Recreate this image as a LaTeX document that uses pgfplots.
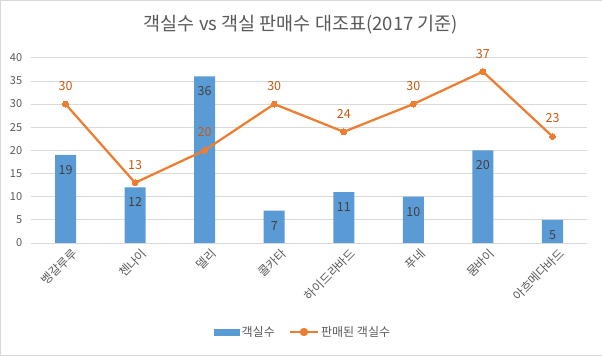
\documentclass[border=0pt]{standalone}
\usepackage{pgfplots}
\pgfplotsset{compat=1.18}
\usepackage{pgfplotstable}
\usepackage{fontspec}
\setmainfont{Noto Sans CJK KR}
\definecolor{cblue}{HTML}{5B9BD5}
\definecolor{corange}{HTML}{ED7D31}
\definecolor{cgrid}{HTML}{D9D9D9}
\definecolor{ctext}{HTML}{595959}
\definecolor{clabel}{HTML}{404040}
\definecolor{corlabel}{HTML}{C55A11}
\pgfplotstableread{
x rooms sold
0 19 30
1 12 13
2 36 20
3 7 30
4 11 24
5 10 30
6 20 37
7 5 23
}\data
\begin{document}
\begin{tikzpicture}[x=1pt,y=1pt]
\draw[cgrid] (0.5,0.5) rectangle (601.5,355.5);
\node[text=ctext, font=\fontsize{18.5}{21}\selectfont] at (301,331) {객실수 vs 객실 판매수 대조표(2017 기준)};
\begin{axis}[
  at={(31pt,113pt)}, anchor=south west,
  scale only axis, width=556pt, height=185pt,
  xmin=-0.5, xmax=7.5, ymin=0, ymax=40,
  ytick={0,5,...,40},
  xtick={0,...,7},
  xticklabels={벵갈루루,첸나이,델리,콜카타,하이드라바드,푸네,뭄바이,아흐메다바드},
  xticklabel style={rotate=45, anchor=north east, font=\fontsize{12}{14}\selectfont, text=ctext, inner sep=1pt, xshift=2pt, yshift=-6pt},
  yticklabel style={font=\fontsize{11}{13}\selectfont, text=ctext, xshift=-5pt},
  /pgf/number format/assume math mode=true,
  ymajorgrids, grid style={cgrid, line width=0.75pt},
  axis lines*=left,
  x axis line style={cgrid, line width=0.75pt, -},
  y axis line style={draw=none},
  major tick length=0pt,
  clip=false,
  legend style={at={(0.489,-0.481)}, anchor=center, draw=none, fill=none,
    legend columns=2, font=\fontsize{12}{14}\selectfont, text=ctext,
    /tikz/every even column/.append style={column sep=12pt}},
]
\addplot[ybar, bar width=21pt, fill=cblue, draw=none,
  nodes near coords, point meta=explicit,
  every node near coord/.append style={anchor=center, yshift=-15pt, text=clabel, font=\fontsize{12.5}{14}\selectfont},
  legend image code/.code={\fill[cblue] (0pt,-3.5pt) rectangle (26pt,3.5pt);}]
  table[x=x, y=rooms, meta=rooms] {\data};
\addlegendentry{객실수}
\addplot[corange, line width=2.25pt, mark=*, mark size=3pt, mark options={fill=corange, draw=corange, line width=0pt},
  nodes near coords, point meta=explicit,
  every node near coord/.append style={anchor=center, yshift=18pt, text=corlabel, font=\fontsize{12.5}{14}\selectfont},
  legend image code/.code={\draw[corange, line width=2.25pt] (0pt,0pt) -- (28pt,0pt); \fill[corange] (14pt,0pt) circle (3pt);}]
  table[x=x, y=sold, meta=sold] {\data};
\addlegendentry{판매된 객실수}
\end{axis}
\end{tikzpicture}
\end{document}
